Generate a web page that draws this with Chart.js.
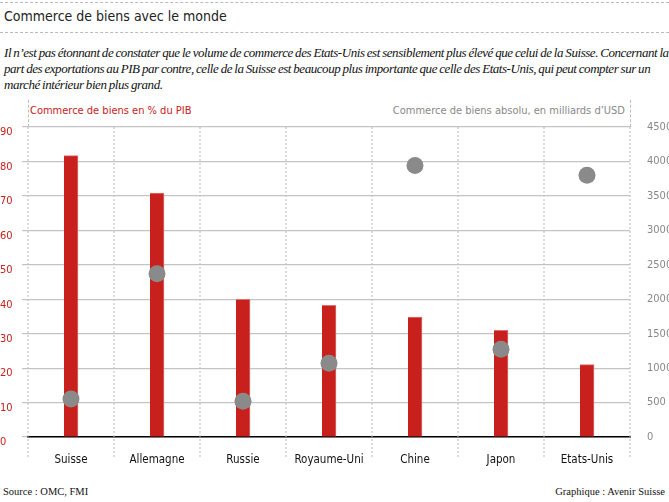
<!DOCTYPE html>
<html><head><meta charset="utf-8">
<script src="https://cdn.jsdelivr.net/npm/chart.js@4"></script>
<style>
body{margin:0;width:669px;height:502px;position:relative;background:#fff;overflow:hidden;font-family:'DejaVu Sans Condensed','Liberation Sans Narrow',sans-serif;font-stretch:condensed;}
.hr{position:absolute;left:0;width:669px;border-top:1px dashed #bbb;}
#t{position:absolute;left:4px;top:8px;font-size:14px;color:#222;}
#s{position:absolute;left:4px;top:45px;width:665px;font-family:'Liberation Serif',serif;font-style:italic;font-size:13px;line-height:16px;color:#111;letter-spacing:-0.45px;word-spacing:-0.5px}
#a1{position:absolute;left:30px;top:104px;font-size:11px;color:#c8201c;}
#a2{position:absolute;right:44px;top:104px;font-size:11px;color:#888;}
#src{position:absolute;left:3px;top:486px;font-family:'Liberation Serif',serif;font-size:10.5px;color:#111}
#gr{position:absolute;right:4px;top:486px;font-family:'Liberation Serif',serif;font-size:10.5px;color:#111}
#c{position:absolute;left:0;top:100px;}
</style></head><body>
<div class="hr" style="top:2px"></div>
<div id="t">Commerce de biens avec le monde</div>
<div class="hr" style="top:32px"></div>
<div id="s">Il n’est pas étonnant de constater que le volume de commerce des Etats-Unis est sensiblement plus élevé que celui de la Suisse. Concernant la part des exportations au PIB par contre, celle de la Suisse est beaucoup plus importante que celle des Etats-Unis, qui peut compter sur un marché intérieur bien plus grand.</div>
<div style="position:absolute;left:28px;top:100px;height:27px;border-left:1px dashed #bbb"></div>
<div style="position:absolute;left:630px;top:100px;height:27px;border-left:1px dashed #bbb"></div>
<div id="a1">Commerce de biens en % du PIB</div>
<div id="a2">Commerce de biens absolu, en milliards d’USD</div>
<div id="c" style="width:669px;height:372px"><canvas id="cv"></canvas></div>
<div id="src">Source : OMC, FMI</div>
<div id="gr">Graphique : Avenir Suisse</div>
<script>
const categories=['Suisse','Allemagne','Russie','Royaume-Uni','Chine','Japon','Etats-Unis'];
const pctPIB=[81.7,70.8,40,38.2,34.8,31,21];
const absolu=[550,2370,520,1070,3940,1275,3800];
const leftTicks=[0,10,20,30,40,50,60,70,80,90];
const F="'DejaVu Sans Condensed','Liberation Sans Narrow',sans-serif";
new Chart(document.getElementById('cv'),{
 data:{labels:categories,datasets:[
  {type:'scatter',data:absolu,yAxisID:'y1',backgroundColor:'#8a8a8a',borderWidth:0,pointRadius:8.5,order:0},
  {type:'bar',data:pctPIB,yAxisID:'y',backgroundColor:'#c8201c',borderColor:'#e07070',borderWidth:{left:0,right:1,top:1,bottom:0},barThickness:14,order:1}
 ]},
 options:{responsive:true,maintainAspectRatio:false,animation:false,
  layout:{padding:{top:27,bottom:0}},
  plugins:{legend:{display:false},tooltip:{enabled:false}},
  scales:{
   x:{type:'category',offset:true,grid:{display:false},border:{display:true,color:'#000',width:1.5},afterFit:a=>{a.height=35},ticks:{color:'#111',font:{family:F,size:11.5},padding:8}},
   y:{position:'left',min:0,max:90,afterFit:a=>{a.width=28},afterBuildTicks:a=>{a.ticks=leftTicks.map(v=>({value:v}))},grid:{color:'#c4c4c4',lineWidth:1.2,tickLength:6},border:{display:false},ticks:{color:'#c8201c',font:{family:F,size:11},padding:2,align:'start',crossAlign:'far'}},
   y1:{position:'right',min:0,max:4500,afterFit:a=>{a.width=39},grid:{display:false},border:{display:false},ticks:{stepSize:500,color:'#888',font:{family:F,size:11},padding:9,callback:v=>String(v)}}
  }
 },
 plugins:[{id:'vdash',beforeDatasetsDraw(c){const ctx=c.ctx,a=c.chartArea,x=c.scales.x;ctx.save();ctx.strokeStyle='#bbb';ctx.lineWidth=1;ctx.setLineDash([2,2]);for(let i=0;i<=categories.length;i++){const px=x.left+i*(x.width/categories.length);ctx.beginPath();ctx.moveTo(px,a.top);ctx.lineTo(px,a.bottom+22);ctx.stroke();}ctx.restore();}}]
});
</script></body></html>
